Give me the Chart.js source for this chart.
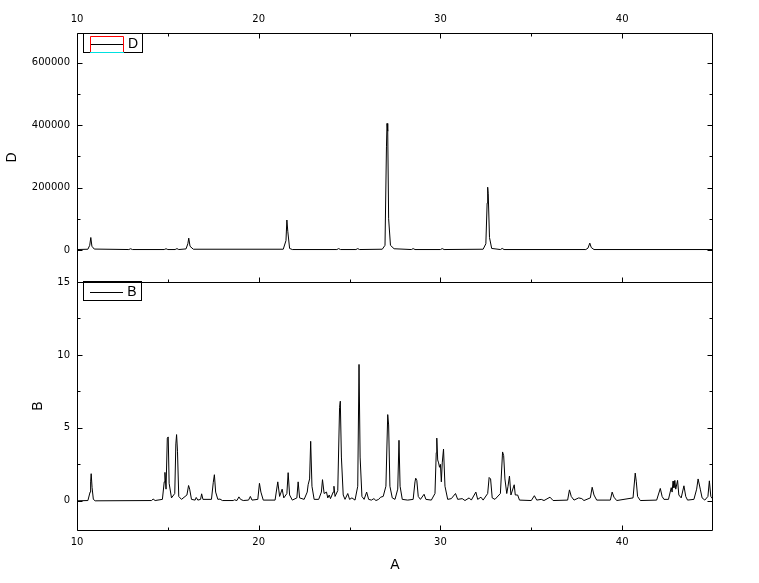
<!DOCTYPE html>
<html><head><meta charset="utf-8">
<script src="https://cdn.jsdelivr.net/npm/chart.js@4.4.0/dist/chart.umd.min.js"></script>
<style>
html,body{margin:0;padding:0;background:#fff;}
#wrap{position:relative;width:759px;height:583px;background:#fff;}
canvas{position:absolute;left:0;top:0;}
</style></head><body>
<div id="wrap"><canvas id="cD" width="759" height="583"></canvas><canvas id="cB" width="759" height="583"></canvas></div>
<script>
// ---- data: top panel (D) ----
const dAngles = [10.0,10.6,10.7,10.76,10.82,10.95, 12.85,12.95,13.05, 14.8,14.9,15.0, 15.4,15.5,15.6,
  16.0,16.1,16.15,16.22,16.4, 21.35,21.5,21.55,21.6,21.7,21.85, 24.3,24.4,24.5, 25.35,25.45,25.55,
  26.8,26.95,27.03,27.06,27.1,27.15,27.25,27.45, 28.4,28.5,28.6, 30.0,30.1,30.2,
  32.35,32.5,32.57,32.6,32.63,32.7,32.82, 33.3,33.4,33.5, 38.0,38.12,38.22,38.3,38.45, 45.0];
const dCounts = [1500,2500,15000,40000,12000,3000, 1500,4000,1500, 1500,4000,1500, 1500,4500,1500,
  3500,20000,38000,12000,2500, 2500,30000,96000,60000,5000,1500, 1500,4500,1500, 1500,4500,1500,
  2500,15000,330000,405000,380000,100000,15000,4000, 1500,4500,1500, 1500,4500,1500,
  2500,20000,150000,201000,180000,40000,5000, 1500,5000,1500, 1500,6000,22000,8000,1500, 1500];

// ---- data: bottom panel (B) ----
const bAngles = [
  10.0,10.6,10.72,10.75,10.78,10.83,10.9,11.0,
  14.1,14.19,14.3,14.7,14.8,14.84,14.9,14.97,15.02,15.07,15.2,15.38,15.44,15.48,15.53,15.6,15.75,
  16.05,16.14,16.2,16.3,16.5,16.56,16.65,16.8,16.86,16.93,17.4,17.5,17.56,17.63,17.75,17.87,18.0,18.6,18.66,18.8,18.91,19.0,19.15,
  19.44,19.54,19.63,19.95,20.04,20.12,20.25,20.9,21.05,21.15,21.29,21.38,21.55,21.62,21.7,21.85,22.1,22.17,22.25,22.5,
  22.67,22.72,22.8,22.86,22.93,23.05,23.3,23.45,23.51,23.6,23.73,23.8,23.88,23.95,24.1,24.14,24.2,24.35,24.45,24.49,24.55,24.65,24.75,24.9,25.0,25.13,25.3,
  25.45,25.52,25.58,25.68,25.8,25.94,26.05,26.2,26.34,26.45,26.6,26.71,26.85,27.0,27.1,27.15,27.22,27.35,27.5,27.65,27.72,27.78,27.9,28.2,
  28.5,28.6,28.64,28.7,28.78,28.9,29.1,29.2,29.5,29.7,29.77,29.8,29.85,29.9,29.95,30.0,30.05,30.1,30.17,30.25,30.4,30.6,30.83,30.95,31.2,31.35,
  31.58,31.7,31.95,32.05,32.23,32.35,32.6,32.68,32.76,32.85,33.0,33.3,33.42,33.48,33.55,33.65,33.72,33.8,33.88,34.06,34.12,34.25,34.35,
  35.0,35.17,35.3,35.55,35.7,36.03,36.2,37.0,37.1,37.2,37.35,37.61,37.78,37.9,38.25,38.35,38.45,38.6,39.35,39.45,39.55,39.7,
  40.6,40.72,40.78,40.85,41.0,41.9,42.1,42.2,42.3,42.55,42.7,42.75,42.8,42.85,42.9,42.95,43.05,43.12,43.25,43.4,43.5,43.6,43.95,44.1,44.18,44.3,44.4,44.55,44.72,44.8,44.88,45.0];
const bValues = [
  0,0.02,0.6,1.3,1.86,0.9,0.1,0,
  0.02,0.12,0.02,0.1,1.3,1.95,0.8,4.3,4.38,1.2,0.2,0.5,3.9,4.54,3.4,0.3,0.1,
  0.4,1.05,0.8,0.1,0.05,0.23,0.05,0.1,0.48,0.1,0.1,1.27,1.79,0.6,0.1,0.12,0.02,0.02,0.07,0.02,0.27,0.1,0.02,
  0.05,0.3,0.05,0.1,1.2,0.6,0.05,0.05,1.3,0.3,0.8,0.2,0.5,1.93,0.4,0.05,0.2,1.3,0.2,0.1,
  0.6,1.1,1.5,4.08,1.0,0.1,0.1,0.6,1.45,0.5,0.6,0.2,0.4,0.15,0.6,1.0,0.3,0.7,6.4,6.83,3.0,0.4,0.1,0.5,0.1,0.2,0.05,
  1.0,9.35,3.0,0.3,0.1,0.6,0.1,0.05,0.15,0.02,0.1,0.25,0.3,1.0,5.91,5.2,1.0,0.2,0.1,0.8,4.15,1.0,0.1,0.05,
  0.1,1.3,1.55,1.4,0.3,0.1,0.45,0.1,0.05,0.5,3.3,4.3,2.8,2.6,2.3,2.5,1.3,2.6,3.55,1.0,0.1,0.15,0.5,0.1,0.15,0.02,
  0.2,0.05,0.6,0.1,0.25,0.05,0.5,1.6,1.5,0.2,0.1,0.5,3.35,3.1,1.5,0.5,1.0,1.7,0.4,1.1,0.4,0.4,0.05,
  0.02,0.35,0.05,0.1,0.02,0.25,0.02,0.05,0.75,0.3,0.05,0.2,0.15,0.02,0.2,0.93,0.4,0.05,0.05,0.6,0.25,0.02,
  0.2,1.9,1.3,0.3,0.02,0.05,0.85,0.3,0.1,0.1,0.9,0.6,1.35,0.9,1.4,0.8,1.4,0.4,0.2,1.03,0.3,0.05,0.1,0.8,1.5,0.8,0.2,0.05,0.3,1.37,0.3,0.1];

// ---- ticks ----
const xTickLabels = [10, 20, 30, 40];
const xMinorTicks = [15, 25, 35];
const dTickLabels = [0, 200000, 400000, 600000];
const dMinorTicks = [100000, 300000, 500000];
const bTickLabels = [0, 5, 10, 15];
const bMinorTicks = [2.5, 7.5, 12.5];

const tickFont = {family: "'DejaVu Sans', sans-serif", size: 10};
const titleFont = {family: "'Liberation Sans', Arial, sans-serif", size: 14};

function toXY(xs, ys) {
  const n = Math.min(xs.length, ys.length);
  const out = [];
  for (let i = 0; i < n; i++) out.push({x: xs[i], y: ys[i]});
  return out;
}

function drawFrame(chart, xs, ys, sides, yMaj, yMin) {
  const {ctx, chartArea: a} = chart;
  const L = Math.round(a.left) + 0.5, R = Math.round(a.right) - 0.5;
  const T = Math.round(a.top) + 0.5, B = Math.round(a.bottom) + 0.5;
  ctx.save();
  ctx.strokeStyle = '#000'; ctx.lineWidth = 1;
  ctx.beginPath(); ctx.rect(L, T, R - L, B - T); ctx.stroke();
  ctx.beginPath();
  const xt = xTickLabels.map(v => [v, 5]).concat(xMinorTicks.map(v => [v, 3]));
  const yt = yMaj.map(v => [v, 5]).concat(yMin.map(v => [v, 3]));
  for (const [v, l] of xt) {
    const p = Math.round(xs.getPixelForValue(v)) + 0.5;
    if (sides.top) { ctx.moveTo(p, T); ctx.lineTo(p, T + l); }
    if (sides.bottom) { ctx.moveTo(p, B); ctx.lineTo(p, B - l); }
  }
  for (const [v, l] of yt) {
    const p = Math.round(ys.getPixelForValue(v)) + 0.5;
    if (p < T || p > B) continue;
    ctx.moveTo(L, p); ctx.lineTo(L + l, p);
    ctx.moveTo(R, p); ctx.lineTo(R - l, p);
  }
  ctx.stroke();
  ctx.restore();
}

const frameD = {
  id: 'frameD',
  afterDraw(chart) {
    drawFrame(chart, chart.scales.x2, chart.scales.y, {top: true, bottom: true}, dTickLabels, dMinorTicks);
    const ctx = chart.ctx;
    ctx.save();
    ctx.lineWidth = 1;
    ctx.fillStyle = '#fff';
    ctx.fillRect(84, 34, 58, 18);
    ctx.strokeStyle = '#000';
    ctx.strokeRect(83.5, 33.5, 59, 19);
    ctx.strokeStyle = '#ff0000';
    ctx.beginPath(); ctx.moveTo(90.5, 52.5); ctx.lineTo(90.5, 36.5); ctx.lineTo(123.5, 36.5); ctx.lineTo(123.5, 52.5); ctx.stroke();
    ctx.strokeStyle = '#000';
    ctx.beginPath(); ctx.moveTo(91, 44.5); ctx.lineTo(123, 44.5); ctx.stroke();
    ctx.strokeStyle = '#00e0e0';
    ctx.beginPath(); ctx.moveTo(90, 52.5); ctx.lineTo(124, 52.5); ctx.stroke();
    ctx.fillStyle = '#000';
    ctx.font = "14px 'Liberation Sans', Arial, sans-serif";
    ctx.textAlign = 'center'; ctx.textBaseline = 'middle';
    ctx.fillText('D', 133, 44);
    ctx.restore();
  }
};

const frameB = {
  id: 'frameB',
  afterDraw(chart) {
    drawFrame(chart, chart.scales.x, chart.scales.y, {top: false, bottom: true}, bTickLabels, bMinorTicks);
    const ctx = chart.ctx;
    ctx.save();
    ctx.lineWidth = 1;
    ctx.fillStyle = '#fff';
    ctx.fillRect(84, 283, 57, 17);
    ctx.strokeStyle = '#000';
    ctx.strokeRect(83.5, 281.5, 58, 19);
    ctx.beginPath(); ctx.moveTo(90, 292.5); ctx.lineTo(123, 292.5); ctx.stroke();
    ctx.fillStyle = '#000';
    ctx.font = "14px 'Liberation Sans', Arial, sans-serif";
    ctx.textAlign = 'center'; ctx.textBaseline = 'middle';
    ctx.fillText('B', 132, 292);
    ctx.restore();
  }
};

const lineDs = (data, xid) => ({
  data, borderColor: '#000', borderWidth: 1, pointRadius: 0, tension: 0, fill: false,
  xAxisID: xid, yAxisID: 'y'
});

new Chart(document.getElementById('cD'), {
  type: 'line',
  data: {datasets: [lineDs(toXY(dAngles, dCounts), 'x2')]},
  options: {
    responsive: false, animation: false, devicePixelRatio: 1,
    layout: {padding: {left: 0, right: 46, top: 0, bottom: 301}},
    plugins: {legend: {display: false}, tooltip: {enabled: false}},
    scales: {
      x2: {
        type: 'linear', position: 'top', min: 10, max: 45,
        grid: {display: false, drawTicks: false}, border: {display: false},
        ticks: {font: tickFont, color: '#000', padding: 8, maxRotation: 0, autoSkip: false},
        afterBuildTicks: s => { s.ticks = xTickLabels.map(v => ({value: v})); },
        afterFit: s => { s.height = 33; }
      },
      y: {
        type: 'linear', position: 'left', min: -102400, max: 694400,
        grid: {display: false, drawTicks: false}, border: {display: false},
        ticks: {font: tickFont, color: '#000', padding: 7, autoSkip: false, callback: v => String(v)},
        title: {display: true, text: 'D', font: titleFont, color: '#000', padding: {top: 3.6, bottom: 0}},
        afterBuildTicks: s => { s.ticks = dTickLabels.map(v => ({value: v})); },
        afterFit: s => { s.width = 77; }
      }
    }
  },
  plugins: [frameD]
});

new Chart(document.getElementById('cB'), {
  type: 'line',
  data: {datasets: [lineDs(toXY(bAngles, bValues), 'x')]},
  options: {
    responsive: false, animation: false, devicePixelRatio: 1,
    layout: {padding: {left: 0, right: 46, top: 282, bottom: 0}},
    plugins: {legend: {display: false}, tooltip: {enabled: false}},
    scales: {
      x: {
        type: 'linear', position: 'bottom', min: 10, max: 45,
        grid: {display: false, drawTicks: false}, border: {display: false},
        ticks: {font: tickFont, color: '#000', padding: 6, maxRotation: 0, autoSkip: false},
        title: {display: true, text: 'A', font: titleFont, color: '#000', padding: {top: 0, bottom: 9.6}},
        afterBuildTicks: s => { s.ticks = xTickLabels.map(v => ({value: v})); },
        afterFit: s => { s.height = 53; }
      },
      y: {
        type: 'linear', position: 'left', min: -2, max: 15,
        grid: {display: false, drawTicks: false}, border: {display: false},
        ticks: {font: tickFont, color: '#000', padding: 7, autoSkip: false, callback: v => String(v)},
        title: {display: true, text: 'B', font: titleFont, color: '#000', padding: {top: 29.6, bottom: 0}},
        afterBuildTicks: s => { s.ticks = bTickLabels.map(v => ({value: v})); },
        afterFit: s => { s.width = 77; }
      }
    }
  },
  plugins: [frameB]
});
</script>
</body></html>
